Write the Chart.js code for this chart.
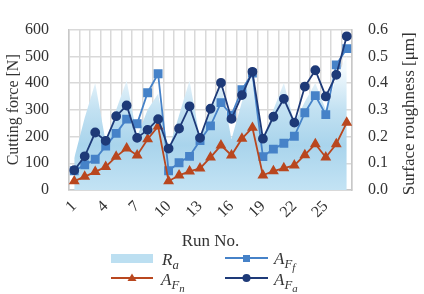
<!DOCTYPE html>
<html>
<head>
<meta charset="utf-8">
<script src="https://cdn.jsdelivr.net/npm/chart.js@4/dist/chart.umd.min.js"></script>
<style>
  html, body { margin: 0; padding: 0; background: #fff; }
  #wrap { position: relative; width: 424px; height: 294px; }
  #legend { position: absolute; left: 0; top: 0; width: 424px; height: 294px; pointer-events: none; }
  .lbl { position: absolute; font-family: "Liberation Serif", "Times New Roman", serif; font-style: italic; font-size: 17px; color: #333; line-height: 1; white-space: nowrap; }
  .lbl sub { font-size: 0.75em; vertical-align: -0.3em; }
  .lbl sub sub { font-size: 0.85em; vertical-align: -0.25em; }
</style>
</head>
<body>
<div id="wrap">
  <canvas id="chart" width="424" height="294"></canvas>
  <div id="legend">
    <svg width="424" height="294" style="position:absolute;left:0;top:0">
      <rect x="111" y="254" width="42" height="9" fill="#bcdff1"/>
      <line x1="225" y1="258" x2="268" y2="258" stroke="#4682c8" stroke-width="1.8"/>
      <rect x="243" y="255" width="7" height="7" fill="#4682c8"/>
      <line x1="111" y1="278" x2="153" y2="278" stroke="#b9471f" stroke-width="1.8"/>
      <polygon points="132,273.5 136.5,281 127.5,281" fill="#b9471f"/>
      <line x1="225" y1="278" x2="268" y2="278" stroke="#1e3a78" stroke-width="1.8"/>
      <circle cx="246.5" cy="278" r="4" fill="#1e3a78"/>
    </svg>
    <div class="lbl" style="left:162px;top:251px">R<sub>a</sub></div>
    <div class="lbl" style="left:274px;top:250px">A<sub>F<sub>f</sub></sub></div>
    <div class="lbl" style="left:161px;top:271px">A<sub>F<sub>n</sub></sub></div>
    <div class="lbl" style="left:274px;top:271px">A<sub>F<sub>a</sub></sub></div>
  </div>
</div>
<script>
// run numbers
const runs = ['1', '2', '3', '4', '5', '6', '7', '8', '9', '10', '11', '12', '13', '14',
    '15', '16', '17', '18', '19', '20', '21', '22', '23', '24', '25', '26', '27'];

// cutting force amplitudes [N]
const aFf = [72, 94, 115, 164, 212, 265, 248, 364, 435, 72, 102, 126, 185, 240,
    327, 280, 375, 437, 125, 153, 175, 201, 289, 353, 282, 468, 529];
const aFn = [33, 50, 68, 87, 125, 156, 130, 190, 238, 33, 55, 70, 81, 122,
    167, 130, 192, 233, 55, 71, 82, 92, 131, 172, 122, 172, 252];
const aFa = [74, 126, 215, 184, 276, 316, 195, 225, 265, 155, 230, 313, 195, 304,
    401, 266, 355, 442, 192, 274, 341, 252, 387, 448, 350, 431, 575];

// surface roughness [um]
const ra = [0.12, 0.27, 0.40, 0.18, 0.30, 0.41, 0.20, 0.30, 0.36, 0.15, 0.28, 0.41, 0.19, 0.30,
    0.40, 0.19, 0.33, 0.45, 0.18, 0.30, 0.40, 0.25, 0.33, 0.40, 0.30, 0.42, 0.50];

const colorFf = '#4682c8';
const colorFn = '#b9471f';
const colorFa = '#1e3a78';
const gridColor = '#d9d9d9';
const textColor = '#333';
const serif = '"Liberation Serif", "Times New Roman", serif';

function raFill(context) {
    const { ctx, chartArea } = context.chart;
    if (!chartArea) {
        return '#bcdff1';
    }
    const g = ctx.createLinearGradient(0, chartArea.top, 0, chartArea.bottom);
    g.addColorStop(0, '#ffffff');
    g.addColorStop(0.25, '#f2f9fd');
    g.addColorStop(0.5, '#c2e1f2');
    g.addColorStop(0.72, '#a9d4ec');
    g.addColorStop(1, '#c3e3f4');
    return g;
}

// right axis title reads bottom-to-top, like the left one
const rightTitle = {
    id: 'rightTitle',
    afterDraw(chart) {
        const { ctx, chartArea } = chart;
        ctx.save();
        ctx.translate(410, (chartArea.top + chartArea.bottom) / 2 + 4);
        ctx.rotate(-Math.PI / 2);
        ctx.font = `17px ${serif}`;
        ctx.fillStyle = textColor;
        ctx.textAlign = 'center';
        ctx.textBaseline = 'middle';
        ctx.fillText('Surface roughness [μm]', 0, 0);
        ctx.restore();
    },
};

Chart.defaults.font.family = serif;
Chart.defaults.font.size = 16;
Chart.defaults.color = textColor;

new Chart(document.getElementById('chart'), {
    type: 'line',
    data: {
        labels: runs,
        datasets: [
            {
                label: 'Ra',
                data: ra,
                yAxisID: 'y1',
                fill: 'origin',
                backgroundColor: raFill,
                borderWidth: 0,
                pointRadius: 0,
                tension: 0,
                order: 10,
            },
            {
                label: 'AFf',
                data: aFf,
                yAxisID: 'y',
                borderColor: colorFf,
                backgroundColor: colorFf,
                borderWidth: 1.8,
                pointStyle: 'rect',
                pointRadius: 5,
                order: 3,
            },
            {
                label: 'AFn',
                data: aFn,
                yAxisID: 'y',
                borderColor: colorFn,
                backgroundColor: colorFn,
                borderWidth: 1.8,
                pointStyle: 'triangle',
                pointRadius: 4.5,
                order: 2,
            },
            {
                label: 'AFa',
                data: aFa,
                yAxisID: 'y',
                borderColor: colorFa,
                backgroundColor: colorFa,
                borderWidth: 1.8,
                pointStyle: 'circle',
                pointRadius: 4,
                order: 1,
            },
        ],
    },
    options: {
        responsive: false,
        animation: false,
        layout: { padding: { top: 10, bottom: 42, left: 0, right: 0 } },
        plugins: {
            legend: { display: false },
            tooltip: { enabled: false },
        },
        scales: {
            x: {
                offset: true,
                grid: { offset: true, color: gridColor, lineWidth: 1.5, drawTicks: false },
                border: { color: '#c8c8c8', width: 1.5 },
                ticks: {
                    autoSkip: false,
                    minRotation: 45,
                    maxRotation: 45,
                    padding: 7,
                    callback: (v, i) => (i % 3 === 0 ? runs[i] : ''),
                },
                title: { display: true, text: 'Run No.', font: { size: 17 }, padding: { top: 0, bottom: 0 } },
                afterFit: (s) => { s.height = 62; },
            },
            y: {
                position: 'left',
                min: 0,
                max: 600,
                grid: { color: gridColor, lineWidth: 1.5, drawTicks: false },
                border: { color: '#c8c8c8', width: 1.5 },
                ticks: { stepSize: 100, padding: 20 },
                title: { display: true, text: 'Cutting force [N]', font: { size: 16 }, padding: { top: 4, bottom: 0 } },
                afterFit: (s) => { s.width = 69; },
            },
            y1: {
                position: 'right',
                min: 0,
                max: 0.6,
                grid: { drawOnChartArea: false, drawTicks: false },
                border: { color: '#c8c8c8', width: 1.5 },
                ticks: { stepSize: 0.1, padding: 16, callback: (v) => v.toFixed(1) },
                afterFit: (s) => { s.width = 72; },
            },
        },
    },
    plugins: [rightTitle],
});
</script>
</body>
</html>
